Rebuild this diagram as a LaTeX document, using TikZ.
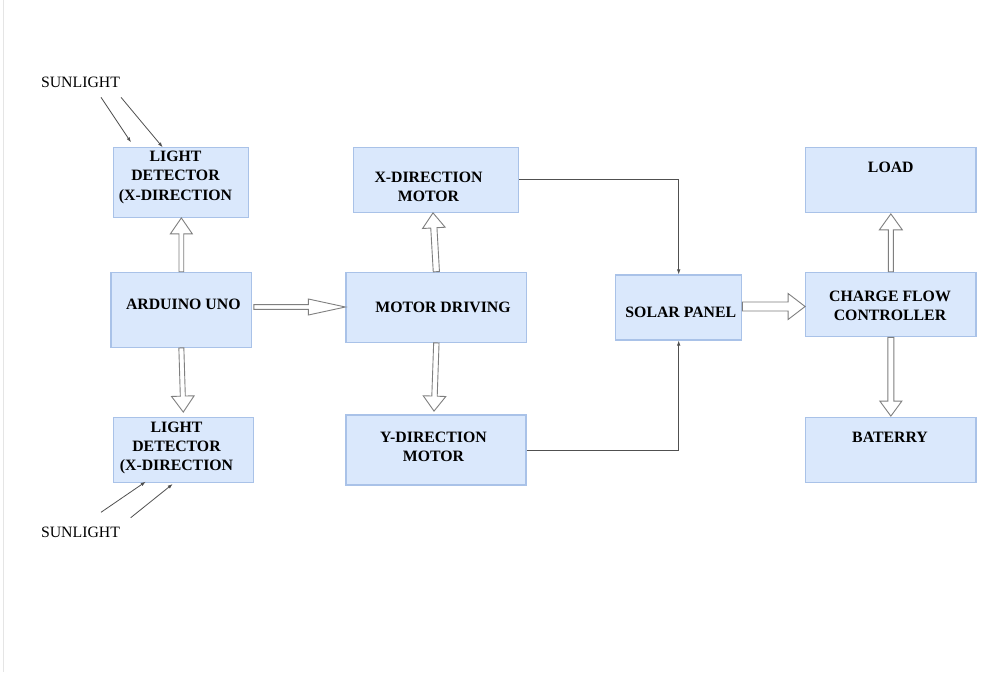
\documentclass[tikz,border=0pt]{standalone}
\usepackage{fontspec}
\setmainfont{Liberation Serif}[BoldFont={Liberation Serif Bold}]
\usetikzlibrary{calc,arrows.meta}
\definecolor{boxfill}{HTML}{DAE8FC}
\definecolor{boxline}{HTML}{A9C2E8}
\definecolor{flexline}{HTML}{7F7F7F}
\definecolor{thinline}{HTML}{505050}
\newcommand{\flexarrow}[5]{%
  \coordinate (fa) at (#1);
  \coordinate (fb) at (#2);
  \coordinate (fh) at ($(fb)!#5!(fa)$);
  \draw[flex] ($(fa)!#3!90:(fb)$) -- ($(fh)!#3!90:(fb)$) -- ($(fh)!#4!90:(fb)$)
    -- (fb) -- ($(fh)!#4!-90:(fb)$) -- ($(fh)!#3!-90:(fb)$) -- ($(fa)!#3!-90:(fb)$) -- cycle;
}
\begin{document}
\begin{tikzpicture}[x=1pt,y=-1pt,
  box/.style={draw=boxline, fill=boxfill, line width=1.2pt, inner sep=0pt},
  txt/.style={font=\bfseries\fontsize{15.8}{19.3}\selectfont, align=center, inner sep=0pt},
  plain/.style={font=\fontsize{15.8}{19.3}\selectfont, inner sep=0pt},
  flex/.style={draw=flexline, fill=white, line width=0.9pt, line join=miter},
  thin/.style={draw=thinline, line width=0.8pt, -{Latex[length=5pt,width=3.6pt]}}]
\useasboundingbox (0,0) rectangle (1006,672);
\fill[white] (0,0) rectangle (1006,672);
\draw[draw=black!10, line width=1.5pt] (3.5,0) -- (3.5,672);

% boxes
\node[box, minimum width=135.4pt, minimum height=70pt] (ld1) at (181,182.3) {};
\node[box, minimum width=140.7pt, minimum height=75pt] (ard) at (181.35,309.8) {};
\node[box, minimum width=140pt, minimum height=65.4pt] (ld2) at (183.3,450) {};
\node[box, minimum width=165.4pt, minimum height=65pt] (xm) at (436,179.8) {};
\node[box, minimum width=180.7pt, minimum height=70pt] (md) at (436.35,307.3) {};
\node[box, minimum width=180pt, minimum height=70pt] (ym) at (436,450) {};
\node[box, minimum width=126pt, minimum height=65pt] (solar) at (678.7,307.5) {};
\node[box, minimum width=170.3pt, minimum height=65pt] (load) at (890.85,179.8) {};
\node[box, minimum width=170.3pt, minimum height=64.4pt] (charge) at (890.85,304.5) {};
\node[box, minimum width=170.3pt, minimum height=65pt] (bat) at (890.85,450.2) {};

% texts
\node[txt] (ld1t) at (175.5,177.3) {LIGHT\\DETECTOR\\(X-DIRECTION};
\node[txt] (ardt) at (183.3,304.2) {ARDUINO UNO};
\node[txt] (ld2t) at (176.5,448) {LIGHT\\DETECTOR\\(X-DIRECTION};
\node[txt] (xmt) at (428.5,187) {X-DIRECTION\\MOTOR};
\node[txt] (mdt) at (443,307.8) {MOTOR DRIVING};
\node[txt] (ymt) at (433.5,447) {Y-DIRECTION\\MOTOR};
\node[txt] (solart) at (680.8,312.5) {SOLAR PANEL};
\node[txt] (loadt) at (890.8,167) {LOAD};
\node[txt] (charget) at (890,305.8) {CHARGE FLOW\\CONTROLLER};
\node[txt] (batt) at (890,437.8) {BATERRY};
\node[plain] (sun1) at (80.5,82.5) {SUNLIGHT};
\node[plain] (sun2) at (80.5,532.5) {SUNLIGHT};

% block arrows
\flexarrow{ard.north}{ard.north |- ld1.south}{2.4pt}{11pt}{16pt}
\flexarrow{ard.south}{[yshift=4.6pt]ld2.north}{2.5pt}{11.3pt}{16pt}
\coordinate (a3s) at ($(ard.east)+(1.5,-2.8)$);
\flexarrow{a3s}{md.west |- a3s}{2.4pt}{8pt}{37pt}
\flexarrow{md.north}{[xshift=-3pt]xm.south}{3.1pt}{11.3pt}{15pt}
\flexarrow{md.south}{[xshift=-2pt,yshift=3.3pt]ym.north}{2.7pt}{11.3pt}{15pt}
\coordinate (a6s) at ([yshift=1pt]solar.east);
\flexarrow{a6s}{charge.west |- a6s}{4.5pt}{13pt}{17pt}
\flexarrow{charge.north}{[yshift=-1pt]load.south}{2.5pt}{11.5pt}{16pt}
\flexarrow{charge.south}{[yshift=1pt]bat.north}{3pt}{11pt}{15pt}

% thin connectors
\draw[thin] (xm.east) -| (solar.north);
\draw[thin] (ym.east) -| (solar.south);

% sunlight rays
\coordinate (r1a) at (101,97.3);
\coordinate (r1b) at (131,142.3);
\coordinate (r2a) at (121,97.3);
\coordinate (r2b) at (162.7,147.3);
\coordinate (r3a) at (101,512.3);
\coordinate (r3b) at (145.7,481.7);
\coordinate (r4a) at (130.7,517.7);
\coordinate (r4b) at (172.7,484);
\draw[thin] (r1a) -- (r1b);
\draw[thin] (r2a) -- (r2b);
\draw[thin] (r3a) -- (r3b);
\draw[thin] (r4a) -- (r4b);
\end{tikzpicture}
\end{document}
